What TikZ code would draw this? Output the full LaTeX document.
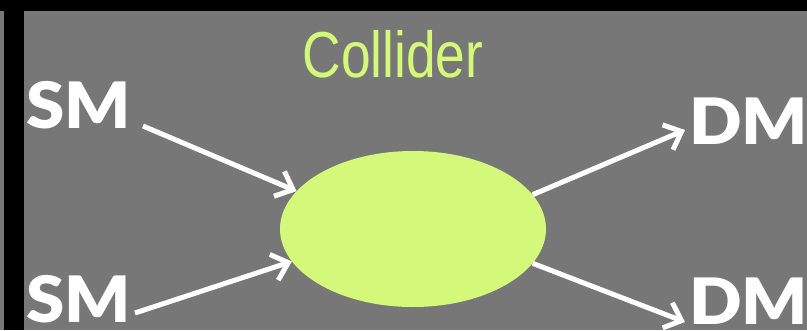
\documentclass[tikz,border=0pt]{standalone}
\usepackage{fontspec}
\setmainfont{Liberation Sans}
\newfontfamily\labelfont{Lato Black}
\usetikzlibrary{shapes.geometric,arrows.meta}
\definecolor{slate}{RGB}{119,119,119}
\definecolor{lime}{RGB}{212,248,122}
\tikzset{
  particle/.style={text=white,font=\labelfont\fontsize{64}{64}\selectfont,inner sep=0pt,anchor=base west},
  conn/.style={white,line width=5pt,-{Straight Barb[length=15pt,width=27pt,line width=5pt]}},
}

\begin{document}
\begin{tikzpicture}[x=1pt,y=-1pt]
    % background and frame bars
    \fill[slate] (0,0) rectangle (807,330);
    \fill[black] (0,0) rectangle (807,11);
    \fill[black] (4,11) rectangle (24,330);
    \useasboundingbox (0,0) rectangle (807,330);
    \node[text=lime,font=\fontsize{65}{65}\selectfont,inner sep=0pt,anchor=base] (title) at (393,77) {\scalebox{0.82}[1]{Collider}};
    \node[ellipse,fill=lime,minimum width=266pt,minimum height=156pt,inner sep=0pt] (blob) at (413,229) {};
    \node[particle] (smA) at (26,128) {\scalebox{1.08}[1]{SM}};
    \node[particle] (smB) at (26,322) {\scalebox{1.08}[1]{SM}};
    \node[particle] (dmA) at (689,144) {\scalebox{1.08}[1]{DM}};
    \node[particle] (dmB) at (689,324) {\scalebox{1.08}[1]{DM}};
    \coordinate (inA) at (143,126);
    \coordinate (inB) at (135,313);
    \coordinate (outA) at (685,130);
    \coordinate (outB) at (685,322);
    \draw[conn] (inA) -- (blob.162);
    \draw[conn] (inB) -- (blob.195);
    \draw[conn] (blob.16) -- (outA);
    \draw[conn] (blob.-16) -- (outB);
\end{tikzpicture}
\end{document}
